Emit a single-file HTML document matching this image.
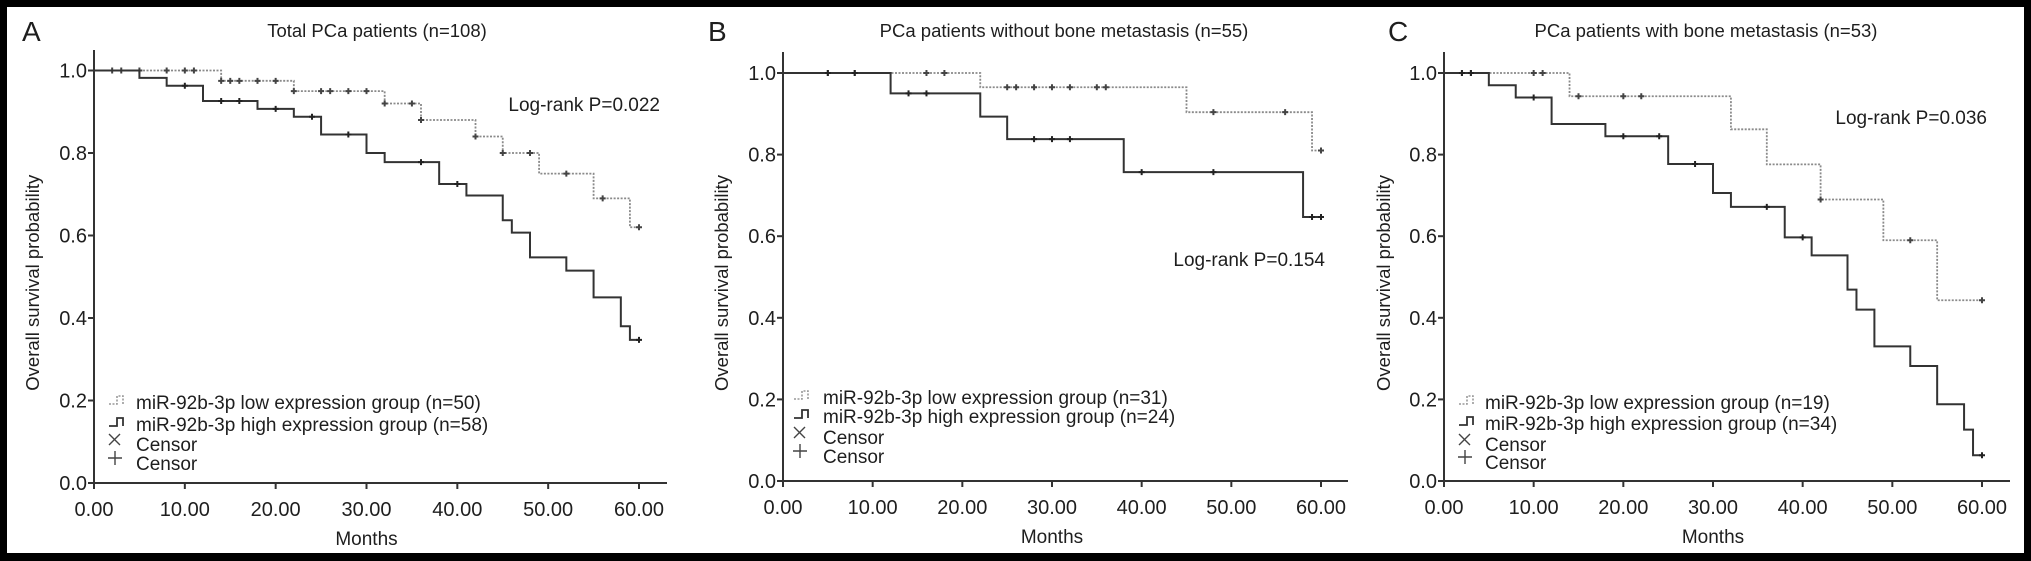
<!DOCTYPE html>
<html><head><meta charset="utf-8"><style>
html,body{margin:0;padding:0;background:#000;}
#wrap{position:relative;width:2031px;height:561px;overflow:hidden;background:#000;}
svg{position:absolute;left:0;top:0;}
text{font-family:"Liberation Sans",Arial,sans-serif;fill:#1e1e1e;}
</style></head><body>
<div id="wrap">
<svg id="svg" width="2031" height="561">
<rect x="7" y="7" width="2017" height="546" fill="#fff"/>
</svg>
</div>
<script>
// Panel A data
const aLowTimes=[0,14,22,32,36,42,45,49,55,59,60];
const aLowSurv=[1.0,0.975,0.95,0.92,0.88,0.84,0.80,0.75,0.69,0.62,0.62];
const aLowCensT=[2,3,5,8,10,11,14,15,16,18,20,22,25,26,28,30,32,35,36,42,45,48,52,56,60];
const aLowCensS=[1,1,1,1,1,1,0.975,0.975,0.975,0.975,0.975,0.95,0.95,0.95,0.95,0.95,0.92,0.92,0.88,0.84,0.80,0.80,0.75,0.69,0.62];
const aHighTimes=[0,5,8,12,18,22,25,30,32,38,41,45,46,48,52,55,58,59,60];
const aHighSurv=[1.0,0.982,0.963,0.926,0.907,0.888,0.845,0.80,0.778,0.725,0.697,0.637,0.607,0.547,0.515,0.45,0.38,0.347,0.347];
const aHighCensT=[10,14,16,20,24,28,36,40,60];
const aHighCensS=[0.963,0.926,0.926,0.907,0.888,0.845,0.778,0.725,0.347];
// Panel B data
const bLowTimes=[0,22,45,59,60];
const bLowSurv=[1.0,0.965,0.904,0.81,0.81];
const bLowCensT=[5,8,16,18,25,26,28,30,32,35,36,48,56,60];
const bLowCensS=[1,1,1,1,0.965,0.965,0.965,0.965,0.965,0.965,0.965,0.904,0.904,0.81];
const bHighTimes=[0,12,22,25,38,58,60];
const bHighSurv=[1.0,0.95,0.893,0.838,0.757,0.647,0.647];
const bHighCensT=[5,8,14,16,28,30,32,40,48,59,60];
const bHighCensS=[1,1,0.95,0.95,0.838,0.838,0.838,0.757,0.757,0.647,0.647];
// Panel C data
const cLowTimes=[0,14,32,36,42,49,55,60];
const cLowSurv=[1.0,0.943,0.862,0.776,0.69,0.59,0.443,0.443];
const cLowCensT=[2,3,10,11,15,20,22,42,52,60];
const cLowCensS=[1,1,1,1,0.943,0.943,0.943,0.69,0.59,0.443];
const cHighTimes=[0,5,8,12,18,25,30,32,38,41,45,46,48,52,55,58,59,60];
const cHighSurv=[1.0,0.97,0.94,0.875,0.845,0.777,0.706,0.672,0.597,0.553,0.469,0.42,0.33,0.282,0.188,0.126,0.063,0.063];
const cHighCensT=[2,3,10,20,24,28,36,40,60];
const cHighCensS=[1,1,0.94,0.845,0.845,0.777,0.672,0.597,0.063];
const xTicks=[0,10,20,30,40,50,60];
const xTickLabels=["0.00","10.00","20.00","30.00","40.00","50.00","60.00"];
const yTicks=[0,0.2,0.4,0.6,0.8,1.0];
const yTickLabels=["0.0","0.2","0.4","0.6","0.8","1.0"];

const NS="http://www.w3.org/2000/svg";
const svg=document.getElementById('svg');
function mk(tag,attrs,parent){const e=document.createElementNS(NS,tag);for(const k in attrs)e.setAttribute(k,attrs[k]);(parent||svg).appendChild(e);return e;}

const panels=[
 {key:'a',letter:'A',lx:22,title:'Total PCa patients (n=108)',tx:377,x0:94,x60:639,xEnd:667,y1:70.5,y0:483,yTop:50,ylx:33,
  logText:'Log-rank P=0.022',logX:660,logY:111,legSym:109,legTxt:136,legY:[402,424,444,463],
  legLabels:['miR-92b-3p low expression group (n=50)','miR-92b-3p high expression group (n=58)'],
  low:[aLowTimes,aLowSurv,aLowCensT,aLowCensS],high:[aHighTimes,aHighSurv,aHighCensT,aHighCensS]},
 {key:'b',letter:'B',lx:708,title:'PCa patients without bone metastasis (n=55)',tx:1064,x0:783,x60:1321,xEnd:1348,y1:73,y0:481,yTop:52,ylx:722,
  logText:'Log-rank P=0.154',logX:1325,logY:266,legSym:794,legTxt:823,legY:[397,416,437,456],
  legLabels:['miR-92b-3p low expression group (n=31)','miR-92b-3p high expression group (n=24)'],
  low:[bLowTimes,bLowSurv,bLowCensT,bLowCensS],high:[bHighTimes,bHighSurv,bHighCensT,bHighCensS]},
 {key:'c',letter:'C',lx:1388,title:'PCa patients with bone metastasis (n=53)',tx:1706,x0:1444,x60:1982,xEnd:2010,y1:73,y0:481,yTop:52,ylx:1384,
  logText:'Log-rank P=0.036',logX:1987,logY:124,legSym:1459,legTxt:1485,legY:[402,423,444,462],
  legLabels:['miR-92b-3p low expression group (n=19)','miR-92b-3p high expression group (n=34)'],
  low:[cLowTimes,cLowSurv,cLowCensT,cLowCensS],high:[cHighTimes,cHighSurv,cHighCensT,cHighCensS]}
];

panels.forEach(p=>{
  const g=mk('g',{});
  
  
  const X=t=>p.x0+(p.x60-p.x0)*t/60;
  const Y=s=>p.y0+(p.y1-p.y0)*s;
  const L=mk('text',{x:p.lx,y:41,'font-size':28},g);L.textContent=p.letter;
  
  const T=mk('text',{x:p.tx,y:37,'font-size':18.5,'text-anchor':'middle'},g);T.textContent=p.title;
  
  const ya=mk('line',{x1:p.x0,y1:p.yTop,x2:p.x0,y2:p.y0,stroke:'#333','stroke-width':2},g);
  
  const xa=mk('line',{x1:p.x0-6,y1:p.y0,x2:p.xEnd,y2:p.y0,stroke:'#333','stroke-width':2},g);
  
  xTicks.forEach((t,i)=>{
    const tk=mk('line',{x1:X(t),y1:p.y0,x2:X(t),y2:p.y0+6,stroke:'#333','stroke-width':2},g);
    
    const tl=mk('text',{x:X(t),y:p.y0+33,'font-size':20,'text-anchor':'middle'},g);tl.textContent=xTickLabels[i];
    
  });
  yTicks.forEach((v,i)=>{
    const tk=mk('line',{x1:p.x0-6,y1:Y(v),x2:p.x0,y2:Y(v),stroke:'#333','stroke-width':2},g);
    
    const tl=mk('text',{x:p.x0-7,y:Y(v)+7,'font-size':20,'text-anchor':'end'},g);tl.textContent=yTickLabels[i];
    
  });
  const xt=mk('text',{x:(p.x0+p.x60)/2,y:p.y0+62,'font-size':19,'text-anchor':'middle'},g);xt.textContent='Months';
  
  const ym=(p.y0+p.y1)/2;
  const yt=mk('text',{x:p.ylx,y:ym,'font-size':18.5,'text-anchor':'middle',transform:'rotate(-90 '+(p.ylx+6)+' '+ym+')'},g);yt.textContent='Overall survival probability';
  
  [['low',p.low,'#8a8a8a','2,1.5',1.8],['high',p.high,'#333','',2]].forEach(([nm,d,col,dash,w])=>{
    const [ts,ss,ct,cs]=d;
    let path='M'+X(ts[0])+','+Y(ss[0]);
    for(let i=1;i<ts.length;i++){path+=' H'+X(ts[i])+' V'+Y(ss[i]);}
    const pa=mk('path',{d:path,fill:'none',stroke:col,'stroke-width':w,'stroke-dasharray':dash},g);
    
    ct.forEach((t,i)=>{
      const cx=X(t),cy=Y(cs[i]);
      const m=mk('path',{d:`M${cx-3},${cy} H${cx+3} M${cx},${cy-3} V${cy+3}`,stroke:nm=='low'?'#444':'#222','stroke-width':2},g);
      
    });
  });
  const lg=mk('text',{x:p.logX,y:p.logY,'font-size':19,'text-anchor':'end'},g);lg.textContent=p.logText;
  
  const s=p.legSym,ly=p.legY;
  const l1=mk('path',{d:`M${s},${ly[0]+2} H${s+8} V${ly[0]-6} H${s+14} V${ly[0]+2}`,fill:'none',stroke:'#999','stroke-width':1.6,'stroke-dasharray':'2,1.5'},g);
  
  const l2=mk('path',{d:`M${s},${ly[1]+2} H${s+8} V${ly[1]-6} H${s+14} V${ly[1]+2}`,fill:'none',stroke:'#333','stroke-width':1.8},g);
  
  const l3=mk('path',{d:`M${s},${ly[2]-10} l11,11 M${s+11},${ly[2]-10} l-11,11`,stroke:'#444','stroke-width':1.4},g);
  
  const l4=mk('path',{d:`M${s-1},${ly[3]-5} H${s+13} M${s+6},${ly[3]-12} V${ly[3]+2}`,stroke:'#444','stroke-width':1.4},g);
  
  const labs=[p.legLabels[0],p.legLabels[1],'Censor','Censor'];
  labs.forEach((t,i)=>{
    const e=mk('text',{x:p.legTxt,y:ly[i]+7,'font-size':19},g);e.textContent=t;
    
  });
});
</script>
</body></html>
